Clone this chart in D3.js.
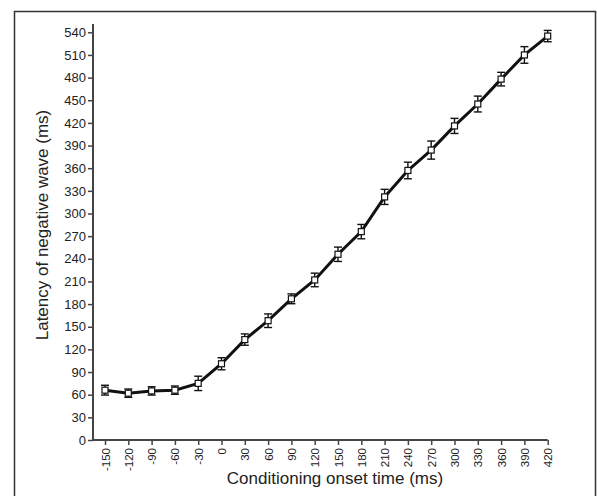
<!DOCTYPE html>
<html>
<head>
<meta charset="utf-8">
<script src="https://cdn.jsdelivr.net/npm/d3@7"></script>
<style>
  html, body { margin: 0; padding: 0; background: #fff; }
  svg { display: block; font-family: "Liberation Sans", Arial, sans-serif; }
</style>
</head>
<body>
<div class="chart"></div>
<script>
const onsetTimes = [-150, -120, -90, -60, -30, 0, 30, 60, 90, 120, 150, 180, 210, 240, 270, 300, 330, 360, 390, 420];
const latency = [66, 62, 65, 66, 75, 101, 133, 158, 187, 212, 246, 276, 322, 357, 384, 416, 445, 478, 510, 535];
const errors = [6.5, 5.5, 5.5, 5.5, 9.5, 8, 7.5, 9, 6.5, 9, 9.5, 9.5, 10, 11, 12, 10, 10.5, 9, 11, 7.5];
const yTicks = [0, 30, 60, 90, 120, 150, 180, 210, 240, 270, 300, 330, 360, 390, 420, 450, 480, 510, 540];

const width = 597, height = 496;
const svg = d3.select('.chart').append('svg')
    .attr('width', width)
    .attr('height', height);

// outer frame
svg.append('rect')
    .attr('x', 14.5).attr('y', 11.5)
    .attr('width', 581).attr('height', 500)
    .attr('fill', 'none')
    .attr('stroke', '#333')
    .attr('stroke-width', 1.5);

const x = d3.scaleLinear().domain([-150, 420]).range([105, 547.7]);
const y = d3.scaleLinear().domain([0, 540]).range([440, 32.3]);

const axisColor = '#444';
const plain = d => String(d); // keep ascii hyphen like the original

// y axis
const yAxis = svg.append('g')
    .attr('transform', 'translate(93,0)')
    .call(d3.axisLeft(y).tickValues(yTicks).tickFormat(plain).tickSize(5).tickPadding(2).tickSizeOuter(0));
yAxis.select('.domain').remove();
yAxis.append('line')
    .attr('x1', 0).attr('x2', 0)
    .attr('y1', 24).attr('y2', 440)
    .attr('stroke', axisColor).attr('stroke-width', 2);
yAxis.selectAll('.tick line').attr('stroke', axisColor).attr('stroke-width', 1.5);
yAxis.selectAll('.tick text')
    .attr('font-size', 13)
    .attr('fill', '#222')
    .attr('font-family', '"Liberation Sans", Arial, sans-serif');

// x axis
const xAxis = svg.append('g')
    .attr('transform', 'translate(0,440)')
    .call(d3.axisBottom(x).tickValues(onsetTimes).tickFormat(plain).tickSize(5).tickSizeOuter(0));
xAxis.select('.domain').remove();
xAxis.append('line')
    .attr('x1', 93).attr('x2', 547.7)
    .attr('y1', 0).attr('y2', 0)
    .attr('stroke', axisColor).attr('stroke-width', 2);
xAxis.selectAll('.tick line').attr('stroke', axisColor).attr('stroke-width', 1.5);
xAxis.selectAll('.tick text')
    .attr('font-size', 11.5)
    .attr('fill', '#222')
    .attr('font-family', '"Liberation Sans", Arial, sans-serif')
    .attr('transform', 'rotate(-90)')
    .attr('text-anchor', 'end')
    .attr('x', -8)
    .attr('y', 0)
    .attr('dy', '0.35em');

// axis titles
svg.append('text')
    .attr('x', 335).attr('y', 484)
    .attr('text-anchor', 'middle')
    .attr('font-size', 17)
    .attr('fill', '#222')
    .text('Conditioning onset time (ms)');

svg.append('text')
    .attr('transform', 'translate(48,225) rotate(-90)')
    .attr('text-anchor', 'middle')
    .attr('font-size', 17)
    .attr('fill', '#222')
    .text('Latency of negative wave (ms)');

const points = onsetTimes.map((t, i) => ({ t: t, v: latency[i], e: errors[i] }));

// line
svg.append('path')
    .datum(points)
    .attr('d', d3.line().x(d => x(d.t)).y(d => y(d.v)))
    .attr('fill', 'none')
    .attr('stroke', '#111')
    .attr('stroke-width', 3);

// error bars
const bars = svg.append('g').selectAll('g')
    .data(points)
    .enter()
    .append('g')
    .attr('stroke', '#111')
    .attr('stroke-width', 1.4);

bars.append('line')
    .attr('x1', d => x(d.t)).attr('x2', d => x(d.t))
    .attr('y1', d => y(d.v + d.e)).attr('y2', d => y(d.v - d.e));
bars.append('line')
    .attr('x1', d => x(d.t) - 4).attr('x2', d => x(d.t) + 4)
    .attr('y1', d => y(d.v + d.e)).attr('y2', d => y(d.v + d.e));
bars.append('line')
    .attr('x1', d => x(d.t) - 4).attr('x2', d => x(d.t) + 4)
    .attr('y1', d => y(d.v - d.e)).attr('y2', d => y(d.v - d.e));

// open square markers
svg.append('g').selectAll('rect')
    .data(points)
    .enter()
    .append('rect')
    .attr('x', d => x(d.t) - 3)
    .attr('y', d => y(d.v) - 3)
    .attr('width', 6)
    .attr('height', 6)
    .attr('fill', '#fff')
    .attr('stroke', '#111')
    .attr('stroke-width', 1.2);
</script>
</body>
</html>
